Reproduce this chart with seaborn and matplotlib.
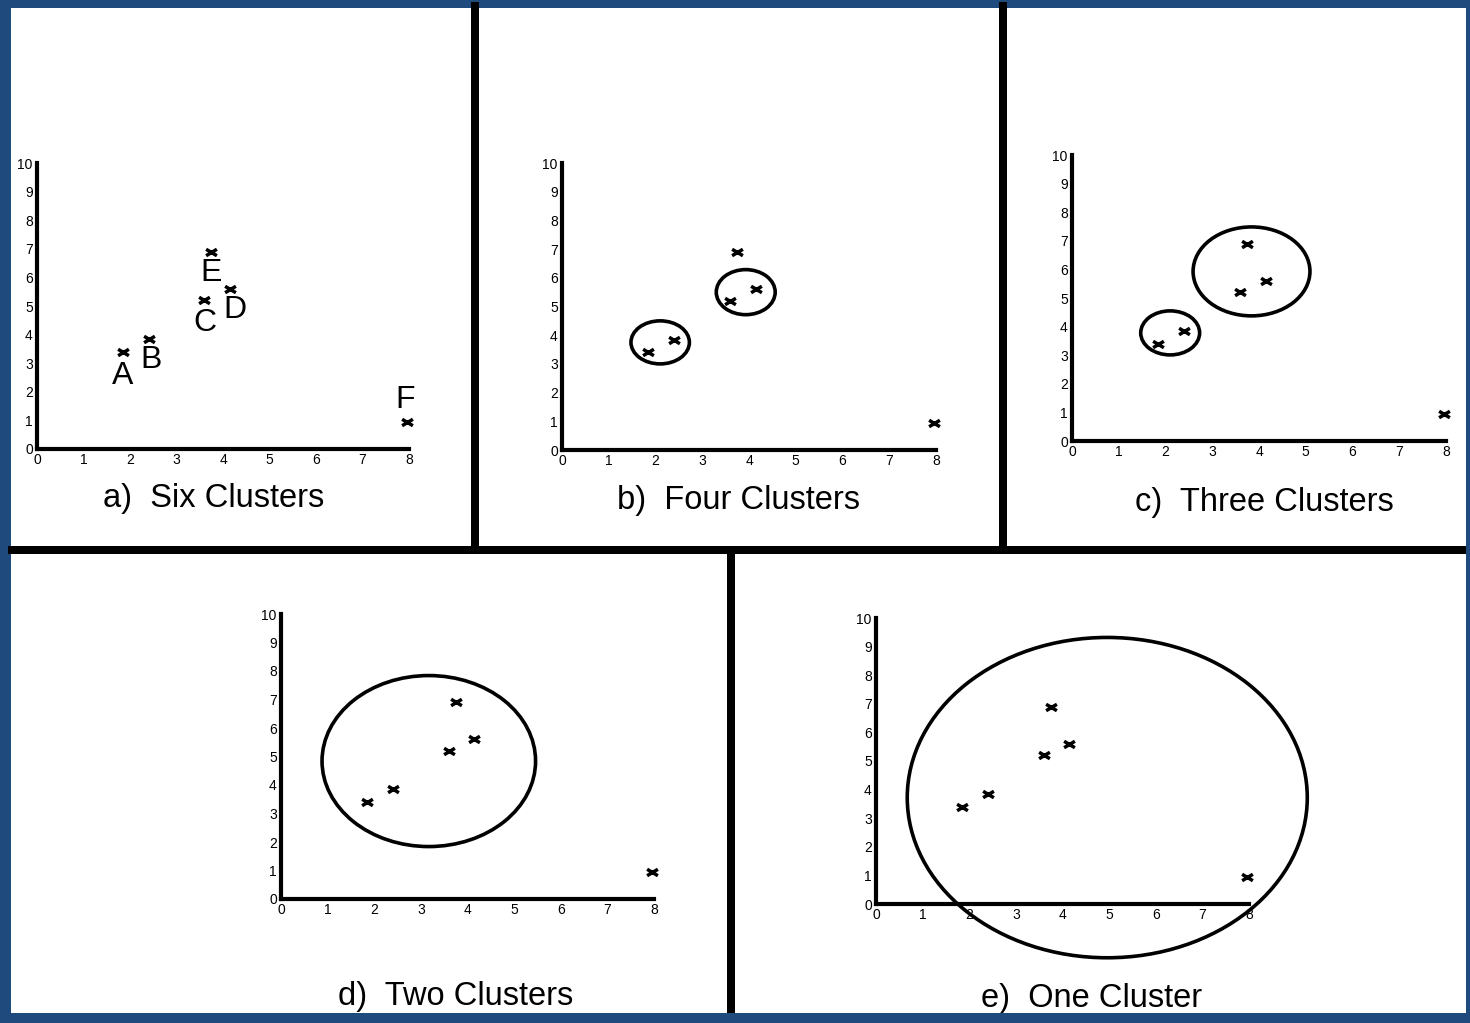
import numpy as np
import pandas as pd
import matplotlib
matplotlib.use("Agg")
import matplotlib.pyplot as plt
import seaborn as sns
from matplotlib.patches import Ellipse, Rectangle
from matplotlib.path import Path

# Six sample points shared by every panel
point_names = ["A", "B", "C", "D", "E", "F"]
point_x = [1.85, 2.4, 3.6, 4.15, 3.75, 7.95]
point_y = [3.4, 3.85, 5.2, 5.6, 6.9, 0.95]

panel_titles = ["a)  Six Clusters", "b)  Four Clusters", "c)  Three Clusters",
                "d)  Two Clusters", "e)  One Cluster"]

x_ticks = [0, 1, 2, 3, 4, 5, 6, 7, 8]
y_ticks = [0, 1, 2, 3, 4, 5, 6, 7, 8, 9, 10]

# Cluster outlines per panel: (center x, center y, width, height) in data units
clusters_b = [(2.1, 3.75, 1.25, 1.5), (3.93, 5.5, 1.26, 1.57)]
clusters_c = [(2.1, 3.78, 1.26, 1.54), (3.84, 5.93, 2.5, 3.11)]
clusters_d = [(3.17, 4.84, 4.58, 6.0)]
clusters_e = [(4.96, 3.72, 8.58, 11.2)]

# Label offsets (pixels) for the letters in panel a
label_dx = [0, 2, 1, 5, 0, -2]
label_dy = [-24, -21, -23, -21, -21, 22]

sns.set_style("white")
plt.rcParams["font.family"] = ["Liberation Sans", "DejaVu Sans"]
plt.rcParams["text.color"] = "black"

W, H = 1470, 1023
fig = plt.figure(figsize=(W / 100, H / 100), dpi=100)
fig.patch.set_facecolor("white")

df = pd.DataFrame({"x": point_x, "y": point_y, "name": point_names})

# Bow-tie shaped cross marker
xmark = Path([(-1, -0.6), (1, 0.6), (-1, 0.6), (1, -0.6)],
             [Path.MOVETO, Path.LINETO, Path.MOVETO, Path.LINETO])


def make_axes(x0, x8, y10, y0):
    ax = fig.add_axes([x0 / W, 1 - y0 / H, (x8 - x0) / W, (y0 - y10) / H])
    ax.set_xlim(0, 8)
    ax.set_ylim(0, 10)
    ax.patch.set_alpha(0)
    for s in ["top", "right"]:
        ax.spines[s].set_visible(False)
    for s in ["left", "bottom"]:
        ax.spines[s].set_linewidth(3)
        ax.spines[s].set_color("black")
        ax.spines[s].set_capstyle("projecting")
    ax.set_xticks(x_ticks)
    ax.set_yticks(y_ticks)
    ax.tick_params(direction="in", length=5, width=3, labelsize=10,
                   colors="black", labelcolor="black", pad=3)
    sns.scatterplot(data=df, x="x", y="y", ax=ax, marker=xmark, s=60,
                    color="black", edgecolor="black", linewidth=2.5,
                    clip_on=False, zorder=5, legend=False)
    ax.set_xlabel("")
    ax.set_ylabel("")
    return ax


def add_clusters(ax, clusters):
    for cx, cy, w, h in clusters:
        ax.add_patch(Ellipse((cx, cy), w, h, fill=False, edgecolor="black",
                             linewidth=2.6, clip_on=False, zorder=6))


ax_a = make_axes(37, 409, 163, 449)
for name, px, py, dx, dy in zip(point_names, point_x, point_y, label_dx, label_dy):
    ax_a.annotate(name, (px, py), xytext=(dx, dy), textcoords="offset pixels",
                  ha="center", va="center", fontsize=23, color="black")

ax_b = make_axes(562, 936, 163, 450)
add_clusters(ax_b, clusters_b)

ax_c = make_axes(1072, 1446, 155, 441)
add_clusters(ax_c, clusters_c)

ax_d = make_axes(281, 654, 614, 899)
add_clusters(ax_d, clusters_d)

ax_e = make_axes(876, 1249, 618, 904)
add_clusters(ax_e, clusters_e)

title_pos = [(214, 498), (739, 500), (1264, 503), (456, 997), (1092, 998)]
for t, (tx, ty) in zip(panel_titles, title_pos):
    fig.text(tx / W, 1 - ty / H, t, ha="center", va="center", fontsize=23.5,
             color="black")


def frame_rect(x1, y1, x2, y2, color):
    fig.add_artist(Rectangle((x1 / W, 1 - y2 / H), (x2 - x1) / W, (y2 - y1) / H,
                             transform=fig.transFigure, facecolor=color,
                             edgecolor="none", zorder=20))


blue = "#1f4a7e"
frame_rect(0, 0, W, 8, blue)
frame_rect(0, 0, 11, H, blue)
frame_rect(1466, 0, W, H, blue)
frame_rect(0, 1013, W, H, blue)

frame_rect(471, 2, 479, 554, "black")
frame_rect(999, 2, 1007, 554, "black")
frame_rect(8, 546, 1466, 554, "black")
frame_rect(727, 546, 735, 1013, "black")

fig.savefig("out.png", dpi=100)
